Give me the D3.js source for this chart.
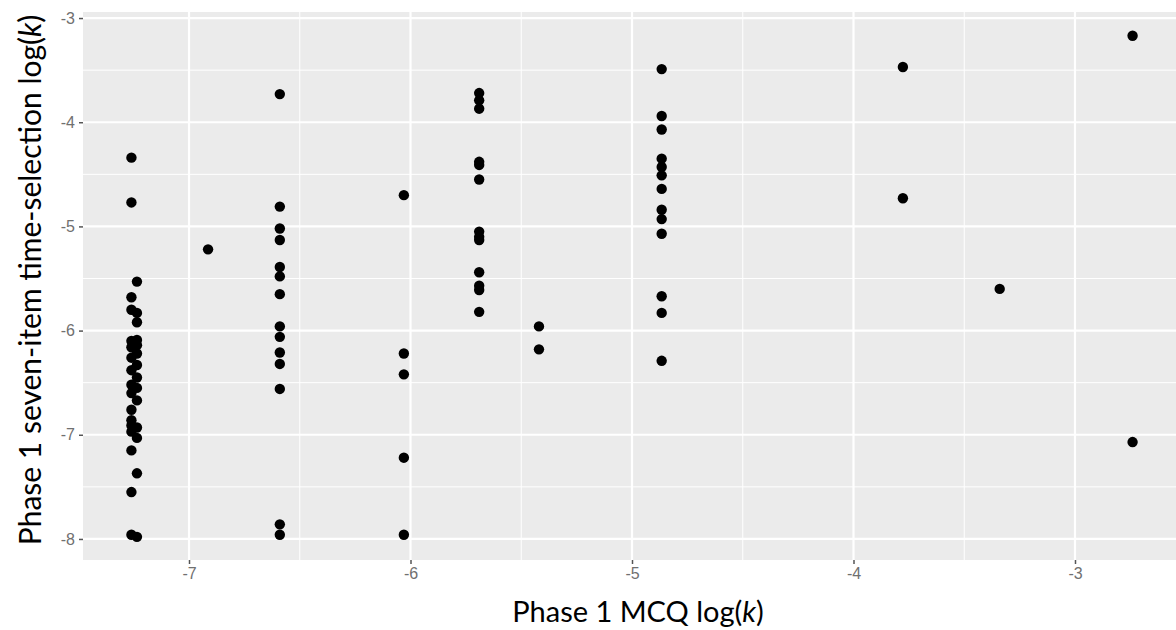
<!DOCTYPE html>
<html>
<head>
<meta charset="utf-8">
<script src="https://cdn.jsdelivr.net/npm/d3@7"></script>
<style>
  body { margin: 0; background: #fff; }
  svg { display: block; }
</style>
</head>
<body>
<div id="container"></div>
<script>
// x = Phase 1 MCQ log(k), y = Phase 1 seven-item time-selection log(k)
const xVals = [
  -7.26, -7.26, -7.26, -7.26, -7.26, -7.26, -7.26, -7.26, -7.26, -7.26, -7.26, -7.26, -7.26, -7.26, -7.26, -7.26, -7.26,
  -7.235, -7.235, -7.235, -7.235, -7.235, -7.235, -7.235, -7.235, -7.235, -7.235, -7.235, -7.235, -7.235, -7.235,
  -6.914,
  -6.59, -6.59, -6.59, -6.59, -6.59, -6.59, -6.59, -6.59, -6.59, -6.59, -6.59, -6.59, -6.59, -6.59,
  -6.03, -6.03, -6.03, -6.03, -6.03,
  -5.69, -5.69, -5.69, -5.69, -5.69, -5.69, -5.69, -5.69, -5.69, -5.69, -5.69, -5.69, -5.69,
  -5.42, -5.42,
  -4.866, -4.866, -4.866, -4.866, -4.866, -4.866, -4.866, -4.866, -4.866, -4.866, -4.866, -4.866, -4.866,
  -3.777, -3.777,
  -3.34,
  -2.74, -2.74
];
const yVals = [
  -4.34, -4.77, -5.68, -5.80, -6.10, -6.16, -6.26, -6.38, -6.52, -6.60, -6.76, -6.86, -6.91, -6.97, -7.15, -7.55, -7.96,
  -5.53, -5.83, -5.92, -6.09, -6.14, -6.22, -6.33, -6.45, -6.55, -6.67, -6.93, -7.03, -7.37, -7.98,
  -5.22,
  -3.73, -4.81, -5.02, -5.13, -5.39, -5.48, -5.65, -5.96, -6.06, -6.21, -6.32, -6.56, -7.86, -7.96,
  -4.70, -6.22, -6.42, -7.22, -7.96,
  -3.72, -3.79, -3.87, -4.38, -4.41, -4.55, -5.05, -5.10, -5.13, -5.44, -5.57, -5.61, -5.82,
  -5.96, -6.18,
  -3.49, -3.94, -4.07, -4.35, -4.43, -4.51, -4.64, -4.84, -4.93, -5.07, -5.67, -5.83, -6.29,
  -3.47, -4.73,
  -5.60,
  -3.17, -7.07
];
const xTicks = [-7, -6, -5, -4, -3];
const yTicks = [-8, -7, -6, -5, -4, -3];
const xMinor = [-6.5, -5.5, -4.5, -3.5];
const yMinor = [-7.5, -6.5, -5.5, -4.5, -3.5];

const points = xVals.map((x, i) => ({x: x, y: yVals[i]}));

const width = 1176;
const height = 630;
const panel = {left: 83, top: 12, right: 1176, bottom: 560};

const svg = d3.select('#container').append('svg')
    .attr('width', width)
    .attr('height', height);

// scales picked so the ticks land where the reference puts them
const xScale = d3.scaleLinear()
    .domain([-7.4786, -2.544])
    .range([panel.left, panel.right]);

const yScale = d3.scaleLinear()
    .domain([-8.202, -2.942])
    .range([panel.bottom, panel.top]);

// ggplot writes a plain hyphen, not the unicode minus d3.format gives
const tickText = d => String(d);

//Panel background
svg.append('rect')
    .attr('x', panel.left)
    .attr('y', panel.top)
    .attr('width', panel.right - panel.left)
    .attr('height', panel.bottom - panel.top)
    .attr('fill', '#ebebeb');

//Minor grid
svg.append('g').selectAll('line')
    .data(xMinor)
    .enter().append('line')
    .attr('x1', d => xScale(d)).attr('x2', d => xScale(d))
    .attr('y1', panel.top).attr('y2', panel.bottom)
    .attr('stroke', '#fff').attr('stroke-width', 1);

svg.append('g').selectAll('line')
    .data(yMinor)
    .enter().append('line')
    .attr('x1', panel.left).attr('x2', panel.right)
    .attr('y1', d => yScale(d)).attr('y2', d => yScale(d))
    .attr('stroke', '#fff').attr('stroke-width', 1);

//Major grid
svg.append('g').selectAll('line')
    .data(xTicks)
    .enter().append('line')
    .attr('x1', d => xScale(d)).attr('x2', d => xScale(d))
    .attr('y1', panel.top).attr('y2', panel.bottom)
    .attr('stroke', '#fff').attr('stroke-width', 2.2);

svg.append('g').selectAll('line')
    .data(yTicks)
    .enter().append('line')
    .attr('x1', panel.left).attr('x2', panel.right)
    .attr('y1', d => yScale(d)).attr('y2', d => yScale(d))
    .attr('stroke', '#fff').attr('stroke-width', 2.2);

//Axes
const xAxis = svg.append('g')
    .attr('transform', 'translate(0,' + panel.bottom + ')')
    .call(d3.axisBottom(xScale).tickValues(xTicks).tickSize(4).tickPadding(4).tickFormat(tickText));

const yAxis = svg.append('g')
    .attr('transform', 'translate(' + panel.left + ',0)')
    .call(d3.axisLeft(yScale).tickValues(yTicks).tickSize(4).tickPadding(4).tickFormat(tickText));

[xAxis, yAxis].forEach(ax => {
    ax.select('.domain').remove();
    ax.selectAll('.tick line').attr('stroke', '#555').attr('stroke-width', 1.5);
    ax.selectAll('.tick text')
        .attr('fill', '#707070')
        .style('font-family', 'Liberation Sans, Arial, sans-serif')
        .style('font-size', '16px');
});

//Points
svg.append('g').selectAll('circle')
    .data(points)
    .enter().append('circle')
    .attr('cx', d => xScale(d.x))
    .attr('cy', d => yScale(d.y))
    .attr('r', 5.2)
    .attr('fill', '#000');

//Axis titles
const xTitle = svg.append('text')
    .attr('x', 638)
    .attr('y', 622)
    .attr('text-anchor', 'middle')
    .style('font-family', 'Lato, sans-serif')
    .style('font-size', '29px')
    .attr('fill', '#000');
xTitle.append('tspan').text('Phase 1 MCQ log(');
xTitle.append('tspan').style('font-style', 'italic').text('k');
xTitle.append('tspan').text(')');

const yTitle = svg.append('text')
    .attr('transform', 'translate(41,280) rotate(-90)')
    .attr('text-anchor', 'middle')
    .style('font-family', 'Lato, sans-serif')
    .style('font-size', '30px')
    .attr('fill', '#000');
yTitle.append('tspan').text('Phase 1 seven-item time-selection log(');
yTitle.append('tspan').style('font-style', 'italic').text('k');
yTitle.append('tspan').text(')');
</script>
</body>
</html>
